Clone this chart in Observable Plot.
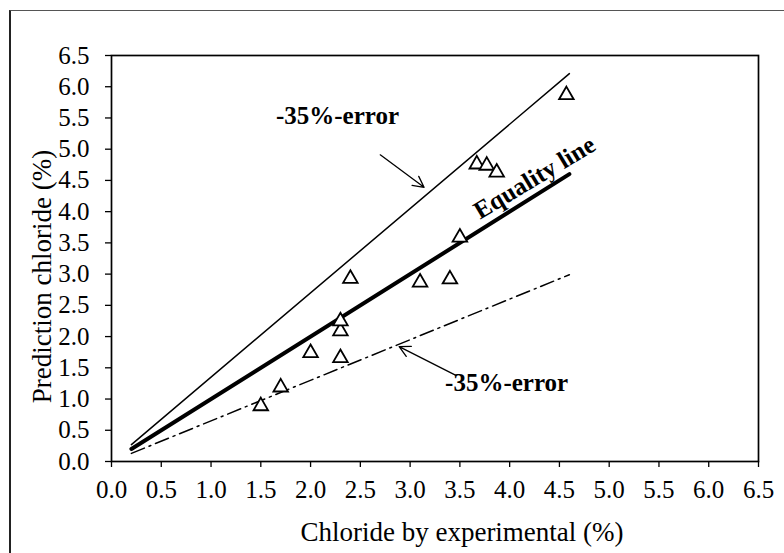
<!DOCTYPE html>
<html>
<head>
<meta charset="utf-8">
<script src="https://cdn.jsdelivr.net/npm/d3@7"></script>
<script src="https://cdn.jsdelivr.net/npm/@observablehq/plot@0.6"></script>
<style>
  html, body { margin: 0; padding: 0; background: white; overflow: hidden; }
  #wrap { position: relative; width: 784px; height: 553px; }
  #border { position: absolute; left: 9px; top: 10px; width: 900px; height: 700px;
            border-left: 2px solid #222; border-top: 1.5px solid #555; }
  #chart { position: absolute; left: 0; top: 0; }
  #chart svg, #chart svg text { font-family: "Liberation Serif", "Times New Roman", serif !important; }
</style>
</head>
<body>
<div id="wrap"><div id="border"></div><div id="chart"></div></div>
<script>
// Tick values
const xTicks = [0, 0.5, 1, 1.5, 2, 2.5, 3, 3.5, 4, 4.5, 5, 5.5, 6, 6.5];
const yTicks = [0, 0.5, 1, 1.5, 2, 2.5, 3, 3.5, 4, 4.5, 5, 5.5, 6, 6.5];

// Measured points: chloride by experimental (%) vs prediction chloride (%)
const expX  = [1.5, 1.7, 2.0, 2.3, 2.3, 2.3, 2.4, 3.1, 3.4, 3.5, 3.67, 3.77, 3.87, 4.57];
const predY = [0.92, 1.22, 1.77, 1.69, 2.12, 2.28, 2.96, 2.90, 2.95, 3.62, 4.79, 4.77, 4.66, 5.90];

// Reference lines (end points)
const lineX  = [0.2, 4.6];
const upperY = [0.27, 6.21];  // upper error line
const equalY = [0.2, 4.6];    // equality line
const lowerY = [0.13, 2.99];  // lower error line (dash-dot)

// Annotations
const labelText = ["-35%-error", "-35%-error"];
const labelX = [2.27, 3.97];
const labelY = [5.53, 1.26];
const arrowX1 = [2.70, 3.46];
const arrowY1 = [4.91, 1.38];
const arrowX2 = [3.14, 2.89];
const arrowY2 = [4.39, 1.84];
const eqLabel = ["Equality line"];
const eqLabelX = [3.66];
const eqLabelY = [3.98];

const xTitle = "Chloride by experimental (%)";
const yTitle = "Prediction chloride (%)";

const points = expX.map((x, i) => ({x, y: predY[i]}));
const mk = (ys) => lineX.map((x, i) => ({x, y: ys[i]}));
const labels = labelText.map((t, i) => ({t, x: labelX[i], y: labelY[i]}));
const arrows = arrowX1.map((x1, i) => ({x1, y1: arrowY1[i], x2: arrowX2[i], y2: arrowY2[i]}));
const eq = eqLabel.map((t, i) => ({t, x: eqLabelX[i], y: eqLabelY[i]}));

const font = "Liberation Serif";

const chart = Plot.plot({
  width: 784,
  height: 553,
  marginLeft: 111,
  marginRight: 26,
  marginTop: 55,
  marginBottom: 92,
  style: {fontFamily: font, fontSize: "25px", color: "black", background: "none"},
  x: {domain: [0, 6.5], label: null},
  y: {domain: [0, 6.5], label: null},
  marks: [
    Plot.axisX({ticks: xTicks, tickFormat: d3.format(".1f"), tickSize: 6, tickPadding: 13, label: null, fontSize: 25, strokeWidth: 1.3}),
    Plot.axisY({ticks: yTicks, tickFormat: d3.format(".1f"), tickSize: 6, tickPadding: 16, label: null, fontSize: 25, strokeWidth: 1.3}),
    Plot.frame({stroke: "black", strokeWidth: 1.7}),
    Plot.line(mk(upperY), {x: "x", y: "y", stroke: "black", strokeWidth: 1.5}),
    Plot.line(mk(equalY), {x: "x", y: "y", stroke: "black", strokeWidth: 4}),
    Plot.line(mk(lowerY), {x: "x", y: "y", stroke: "black", strokeWidth: 1.5, strokeDasharray: "14,5,2,5"}),
    Plot.dot(points, {x: "x", y: "y", symbol: "triangle", r: 5.4, stroke: "black", strokeWidth: 1.8, fill: "white", dy: 2}),
    Plot.arrow(arrows, {x1: "x1", y1: "y1", x2: "x2", y2: "y2", stroke: "black", strokeWidth: 1.3, headLength: 14, headAngle: 55}),
    Plot.text(labels, {x: "x", y: "y", text: "t", fontSize: 25, fontWeight: "bold", fill: "black", lineAnchor: "middle"}),
    Plot.text(eq, {x: "x", y: "y", text: "t", fontSize: 25, fontWeight: "bold", fill: "black", textAnchor: "start", lineAnchor: "middle", rotate: -31}),
    Plot.text([xTitle], {frameAnchor: "bottom", text: d => d, fontSize: 27, fill: "black", textAnchor: "middle", lineAnchor: "middle", dx: 27, dy: 71}),
    Plot.text([yTitle], {frameAnchor: "left", text: d => d, fontSize: 27, fill: "black", textAnchor: "middle", lineAnchor: "middle", rotate: -90, dx: -69, dy: 18})
  ]
});
document.getElementById("chart").appendChild(chart);
</script>
</body>
</html>
